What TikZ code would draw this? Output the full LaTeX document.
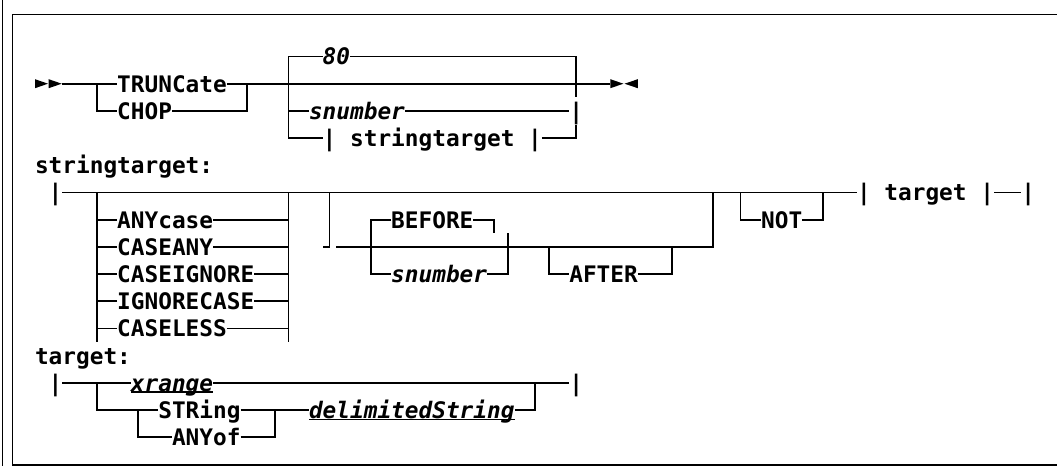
\documentclass[tikz,border=0pt]{standalone}
\usepackage{fontspec}
\newfontfamily\dmono[BoldFont={DejaVu Sans Mono Bold},ItalicFont={DejaVu Sans Mono Oblique},BoldItalicFont={DejaVu Sans Mono Bold Oblique}]{DejaVu Sans Mono}
\newcommand\rrCX[1]{35+13.7*(#1)}
\newcommand\rrRY[1]{56.5+27.2*(#1)}
% junction at the centre of a character cell
\newcommand\jpt[3]{\coordinate (#1) at ({\rrCX{#2+0.5}},{\rrRY{#3}});}
% point at the left edge of a character cell
\newcommand\ept[3]{\coordinate (#1) at ({\rrCX{#2}},{\rrRY{#3}});}
% text starting at a character cell
\newcommand\tnode[5][txt]{\node[#1] (#2) at ({\rrCX{#3}},{\rrRY{#4}}) {#5};}
\tikzset{
  track/.style={line width=1.8pt},
  txt/.style={font=\dmono\bfseries\fontsize{22.76}{27}\selectfont, inner sep=0pt, outer sep=0pt, anchor=west, text height=18pt, text depth=1.4pt},
  ital/.style={txt, font=\dmono\bfseries\itshape\fontsize{22.76}{27}\selectfont},
  uline/.style={line width=1.7pt},
  frameline/.style={line width=1.2pt},
  tip/.style={fill=black}
}
\begin{document}
\begin{tikzpicture}[x=1pt,y=-1pt]
\useasboundingbox (0,0) rectangle (1057,466);
% frame
\draw[frameline] (2.5,0) -- (2.5,466);
\draw[frameline] (1062,14.3) -- (12.3,14.3) -- (12.3,465) -- (1062,465);

% ---------------- main diagram ----------------
\ept{arA}{0}{1}\ept{arB}{1}{1}\ept{arC}{42}{1}\ept{arD}{43}{1}
\fill[tip] ([shift={(0,-4.5)}]arA) -- ([shift={(0,4.5)}]arA) -- ([shift={(13,0)}]arA) -- cycle;
\fill[tip] ([shift={(0,-4.5)}]arB) -- ([shift={(0,4.5)}]arB) -- ([shift={(13,0)}]arB) -- cycle;
\fill[tip] ([shift={(0,-4.5)}]arC) -- ([shift={(0,4.5)}]arC) -- ([shift={(13,0)}]arC) -- cycle;
\fill[tip] ([shift={(13.7,-4.5)}]arD) -- ([shift={(13.7,4.5)}]arD) -- ([shift={(0.5,0)}]arD) -- cycle;

\ept{s1}{2}{1}
\tnode{trunc}{6}{1}{TRUNCate}
\jpt{a4a}{4}{1}\jpt{a4b}{4}{2}
\tnode{chop}{6}{2}{CHOP}
\jpt{a15a}{15}{1}\jpt{a15b}{15}{2}
\jpt{a18a}{18}{0}\jpt{a18d}{18}{3}
\tnode[ital]{n80}{21}{0}{80}
\jpt{a39a}{39}{0}\jpt{a39b}{39}{1.5}\jpt{a39c}{39}{2.5}\jpt{a39d}{39}{3}
\tnode[ital]{snA}{20}{2}{snumber}
\tnode{barA}{39}{2}{|}
\tnode{stA}{21}{3}{| stringtarget |}

\draw[track] (s1) -- (trunc.west);
\draw[track] (trunc.east) -- (arC);
\draw[track] (a4a) -- (a4b) -- (chop.west);
\draw[track] (chop.east) -- (a15b) -- (a15a);
\draw[track] (n80.west) -- (a18a) -- (a18d) -- (stA.west);
\draw[track] (n80.east) -- (a39a) -- (a39b);
\draw[track] (snA.west) -- (snA.west -| a18a);
\draw[track] (snA.east) -- (barA.west);
\draw[track] (stA.east) -- (a39d) -- (a39c);

% ---------------- stringtarget ----------------
\tnode{lab1}{0}{4}{stringtarget:}
\tnode{bar1}{1}{5}{|}
\tnode{tg}{60}{5}{| target |}
\tnode{tgE}{72}{5}{|}
\draw[track] (bar1.east) -- (tg.west);
\draw[track] (tg.east) -- (tgE.west);
\jpt{b4a}{4}{5}\jpt{b4b}{4}{10.5}\jpt{b18a}{18}{5}\jpt{b18b}{18}{10.5}
\draw[track] (b4a) -- (b4b);
\draw[track] (b18a) -- (b18b);
\tnode{o1}{6}{6}{ANYcase}
\tnode{o2}{6}{7}{CASEANY}
\tnode{o3}{6}{8}{CASEIGNORE}
\tnode{o4}{6}{9}{IGNORECASE}
\tnode{o5}{6}{10}{CASELESS}
\foreach \o in {o1,o2,o3,o4,o5}{
  \draw[track] (\o.west) -- (\o.west -| b4a);
  \draw[track] (\o.east) -- (\o.east -| b18a);
}
\jpt{b21a}{21}{5}\jpt{b21b}{21}{7}\ept{b21c}{21}{7}\ept{b22}{22}{7}
\jpt{b49a}{49}{5}\jpt{b49b}{49}{7}
\draw[track] (b21a) -- (b21b) -- (b21c);
\draw[track] (b22) -- (b49b) -- (b49a);
% BEFORE / snumber
\tnode{bef}{26}{6}{BEFORE}
\jpt{b24a}{24}{6}\jpt{b24b}{24}{8}\jpt{b33a}{33}{6}\jpt{b33b}{33}{6.5}
\jpt{b34a}{34}{6.5}\jpt{b34b}{34}{8}
\tnode[ital]{snB}{26}{8}{snumber}
\draw[track] (bef.west) -- (b24a) -- (b24b) -- (snB.west);
\draw[track] (bef.east) -- (b33a) -- (b33b);
\draw[track] (snB.east) -- (b34b) -- (b34a);
% AFTER
\tnode{aft}{39}{8}{AFTER}
\jpt{b37a}{37}{7}\jpt{b37b}{37}{8}\jpt{b46a}{46}{7}\jpt{b46b}{46}{8}
\draw[track] (b37a) -- (b37b) -- (aft.west);
\draw[track] (aft.east) -- (b46b) -- (b46a);
% NOT
\tnode{nt}{53}{6}{NOT}
\jpt{b51a}{51}{5}\jpt{b51b}{51}{6}\jpt{b57a}{57}{5}\jpt{b57b}{57}{6}
\draw[track] (b51a) -- (b51b) -- (nt.west);
\draw[track] (nt.east) -- (b57b) -- (b57a);

% ---------------- target ----------------
\tnode{lab2}{0}{11}{target:}
\tnode{bar2}{1}{12}{|}
\tnode[ital]{xr}{7}{12}{xrange}
\tnode{bar3}{39}{12}{|}
\draw[track] (bar2.east) -- (xr.west);
\draw[track] (xr.east) -- (bar3.west);
\draw[uline] ([yshift=-9.4pt]xr.west) -- ([yshift=-9.4pt]xr.east);
\jpt{d4a}{4}{12}\jpt{d4b}{4}{13}
\tnode{str}{9}{13}{STRing}
\draw[track] (d4a) -- (d4b) -- (str.west);
\jpt{d7a}{7}{13}\jpt{d7b}{7}{14}
\tnode{anyof}{10}{14}{ANYof}
\draw[track] (d7a) -- (d7b) -- (anyof.west);
\tnode[ital]{dl}{20}{13}{delimitedString}
\draw[uline] ([yshift=-9.4pt]dl.west) -- ([yshift=-9.4pt]dl.east);
\draw[track] (str.east) -- (dl.west);
\jpt{d17a}{17}{13}\jpt{d17b}{17}{14}
\draw[track] (anyof.east) -- (d17b) -- (d17a);
\jpt{d36a}{36}{12}\jpt{d36b}{36}{13}
\draw[track] (dl.east) -- (d36b) -- (d36a);
\end{tikzpicture}
\end{document}
